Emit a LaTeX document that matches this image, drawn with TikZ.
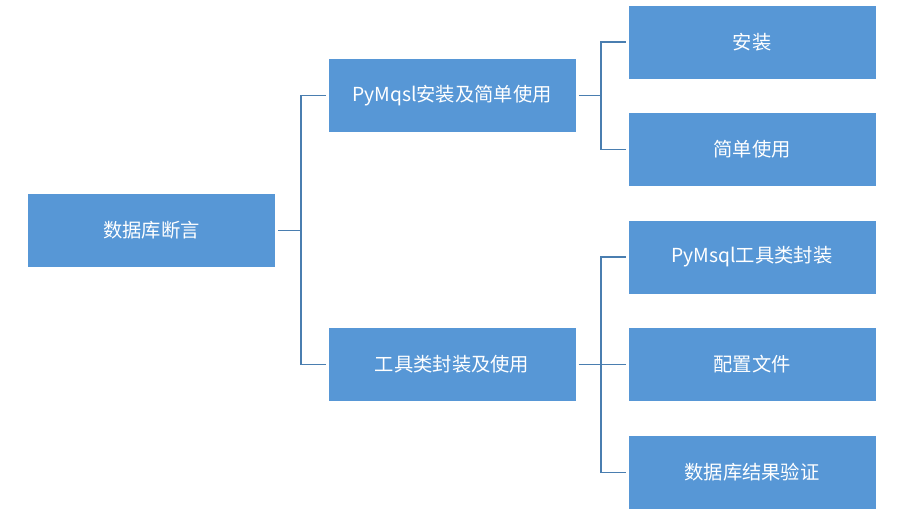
\documentclass[tikz,border=0pt]{standalone}
\usepackage{fontspec}
\setmainfont{Noto Sans CJK SC}
\definecolor{boxblue}{HTML}{5797D6}
\definecolor{lineblue}{HTML}{4A7EB0}
\begin{document}
\begin{tikzpicture}[x=1pt,y=-1pt,
  box/.style={fill=boxblue,draw=none,minimum width=247pt,minimum height=73pt,text=white,font=\fontsize{19.3}{22}\selectfont,inner sep=0pt,outer sep=3pt},
  conn/.style={draw=lineblue,line width=1.8pt}]
\useasboundingbox[fill=white] (0,0) rectangle (914,515);
\node[box] (root) at (151.5,230.5) {数据库断言};
\node[box] (m1) at (452,95.5) {PyMqsl安装及简单使用};
\node[box] (m2) at (452,364.5) {工具类封装及使用};
\node[box] (l1) at (752,42) {安装};
\node[box] (l2) at (752,149.5) {简单使用};
\node[box] (l3) at (752,257) {PyMsql工具类封装};
\node[box] (l4) at (752,364.5) {配置文件};
\node[box] (l5) at (752,472.5) {数据库结果验证};
\coordinate (j0) at (301,230.5);
\coordinate (j1) at (601,95.5);
\coordinate (j2) at (601,364.5);
\draw[conn] (root.east) -- (j0);
\draw[conn] (j0) |- (m1.west);
\draw[conn] (j0) |- (m2.west);
\draw[conn] (m1.east) -- (j1);
\draw[conn] (j1) |- (l1.west);
\draw[conn] (j1) |- (l2.west);
\draw[conn] (m2.east) -- (j2);
\draw[conn] (j2) |- (l3.west);
\draw[conn] (j2) |- (l4.west);
\draw[conn] (j2) |- (l5.west);
\end{tikzpicture}
\end{document}
